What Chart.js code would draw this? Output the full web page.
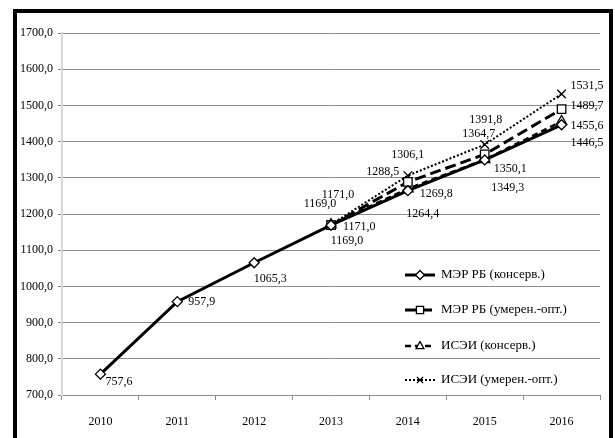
<!DOCTYPE html>
<html lang="ru">
<head>
    <meta charset="UTF-8">
    <title>Прогноз</title>
    <script src="https://cdn.jsdelivr.net/npm/chart.js"></script>
    <style>
        html, body { margin: 0; padding: 0; background: #fff; overflow: hidden; }
        .ramka {
            position: absolute; left: 13px; top: 9px; width: 600px; height: 480px;
            box-sizing: border-box; border: 4px solid #000; border-bottom: none;
        }
        #grafik { position: absolute; left: 0; top: 0; }
    </style>
</head>
<body>
    <div class="ramka"></div>
    <canvas id="grafik" width="615" height="438"></canvas>
<script>
    // данные
    var years = ['2010', '2011', '2012', '2013', '2014', '2015', '2016'];
    var merCons = [757.6, 957.9, 1065.3, 1169.0, 1264.4, 1349.3, 1446.5];
    var merOpt = [null, null, null, 1169.0, 1288.5, 1364.7, 1489.7];
    var iseiCons = [null, null, null, 1171.0, 1269.8, 1350.1, 1455.6];
    var iseiOpt = [null, null, null, 1171.0, 1306.1, 1391.8, 1531.5];
    var names = ['МЭР РБ (консерв.)', 'МЭР РБ (умерен.-опт.)', 'ИСЭИ (консерв.)', 'ИСЭИ (умерен.-опт.)'];
    var yMin = 700, yMax = 1700, yStep = 100;

    var semya = '"Liberation Serif", "Times New Roman", serif';
    var shrift = '12px ' + semya;
    var shriftLeg = '13px ' + semya;

    // где стоят подписи: [dx, dy, выравнивание]
    var podpisi = [
        [[5, 8, 'left'], [11, 0, 'left'], [16, 16, 'center'], [16, 16, 'center'], [15, 23, 'center'], [23, 28, 'center'], [9, 18, 'left']],
        [null, null, null, [-11, -21, 'center'], [-25, -10, 'center'], [-6, -21, 'center'], [9, -3, 'left']],
        [null, null, null, [12, 2, 'left'], [12, 5, 'left'], [9, 9, 'left'], [9, 4, 'left']],
        [null, null, null, [7, -30, 'center'], [0, -21, 'center'], [1, -25, 'center'], [9, -8, 'left']]
    ];
    var legendaY = [275, 310, 346, 380];

    function fmt(v) { return v.toFixed(1).replace('.', ','); }

    function marker(ctx, style, x, y, r) {
        ctx.save();
        ctx.fillStyle = '#fff';
        ctx.strokeStyle = '#000';
        ctx.lineWidth = 1.3;
        ctx.setLineDash([]);
        ctx.beginPath();
        if (style == 'rectRot') {
            ctx.moveTo(x, y - r); ctx.lineTo(x + r, y); ctx.lineTo(x, y + r); ctx.lineTo(x - r, y); ctx.closePath();
            ctx.fill(); ctx.stroke();
        } else if (style == 'rect') {
            ctx.rect(x - r * 0.8, y - r * 0.8, r * 1.6, r * 1.6);
            ctx.fill(); ctx.stroke();
        } else if (style == 'triangle') {
            ctx.moveTo(x, y - r); ctx.lineTo(x + r * 0.87, y + r * 0.6); ctx.lineTo(x - r * 0.87, y + r * 0.6); ctx.closePath();
            ctx.fill(); ctx.stroke();
        } else {
            var d = r * 0.7;
            ctx.moveTo(x - d, y - d); ctx.lineTo(x + d, y + d);
            ctx.moveTo(x + d, y - d); ctx.lineTo(x - d, y + d);
            ctx.stroke();
        }
        ctx.restore();
    }

    var podpisiPlugin = {
        id: 'podpisi',
        afterDatasetsDraw: function (chart) {
            var ctx = chart.ctx;
            ctx.save();
            ctx.font = shrift;
            ctx.fillStyle = '#000';
            ctx.textBaseline = 'middle';
            chart.data.datasets.forEach(function (ds, i) {
                var meta = chart.getDatasetMeta(i);
                meta.data.forEach(function (pt, j) {
                    var p = podpisi[i][j];
                    if (!p || ds.data[j] == null) return;
                    ctx.textAlign = p[2];
                    ctx.fillText(fmt(ds.data[j]), pt.x + p[0], pt.y + p[1]);
                });
            });
            ctx.restore();
        },
        afterDraw: function (chart) {
            var ctx = chart.ctx;
            ctx.save();
            ctx.font = shriftLeg;
            ctx.textBaseline = 'middle';
            ctx.textAlign = 'left';
            chart.data.datasets.forEach(function (ds, i) {
                var y = legendaY[i];
                ctx.strokeStyle = '#000';
                ctx.lineWidth = ds.borderWidth;
                ctx.setLineDash(ds.borderDash || []);
                ctx.beginPath();
                ctx.moveTo(405, y); ctx.lineTo(435, y);
                ctx.stroke();
                marker(ctx, ds.pointStyle, 420, y, 4.5);
                ctx.fillStyle = '#000';
                ctx.fillText(names[i], 441, y);
            });
            ctx.restore();
        }
    };

    function seriya(i, data, dash, w, style, r) {
        return {
            label: names[i],
            data: data,
            borderColor: '#000',
            borderWidth: w,
            borderDash: dash,
            pointStyle: style,
            pointRadius: r,
            pointBackgroundColor: '#fff',
            pointBorderColor: '#000',
            pointBorderWidth: 1.3,
            tension: 0,
            fill: false
        };
    }

    function risuem() {
        new Chart(document.getElementById('grafik'), {
            type: 'line',
            data: {
                labels: years,
                datasets: [
                    seriya(0, merCons, [], 3, 'rectRot', 5),
                    seriya(1, merOpt, [11, 5], 3, 'rect', 6),
                    seriya(2, iseiCons, [6, 4], 2.5, 'triangle', 6),
                    seriya(3, iseiOpt, [2, 2], 2, 'crossRot', 6)
                ]
            },
            options: {
                responsive: false,
                animation: false,
                layout: { padding: { left: 0, right: 15, top: 33, bottom: 0 } },
                plugins: { legend: { display: false }, tooltip: { enabled: false } },
                scales: {
                    x: {
                        offset: true,
                        afterFit: function (s) { s.height = 43; },
                        grid: { offset: true, drawOnChartArea: false, drawTicks: true, tickLength: 5, color: '#8c8c8c' },
                        border: { color: '#8c8c8c', width: 1 },
                        ticks: { font: { family: semya, size: 12 }, color: '#000', padding: 15, maxRotation: 0 }
                    },
                    y: {
                        min: yMin,
                        max: yMax,
                        afterFit: function (s) { s.width = 62; },
                        grid: { color: '#8c8c8c', tickLength: 4, drawTicks: true },
                        border: { color: '#d9d9d9', width: 2 },
                        ticks: {
                            stepSize: yStep,
                            font: { family: semya, size: 12 },
                            color: '#000',
                            padding: 5,
                            callback: function (v) { return fmt(v); }
                        }
                    }
                }
            },
            plugins: [podpisiPlugin]
        });
    }

    if (document.fonts && document.fonts.load) {
        document.fonts.load(shrift).then(risuem, risuem);
    } else {
        risuem();
    }
</script>
</body>
</html>
